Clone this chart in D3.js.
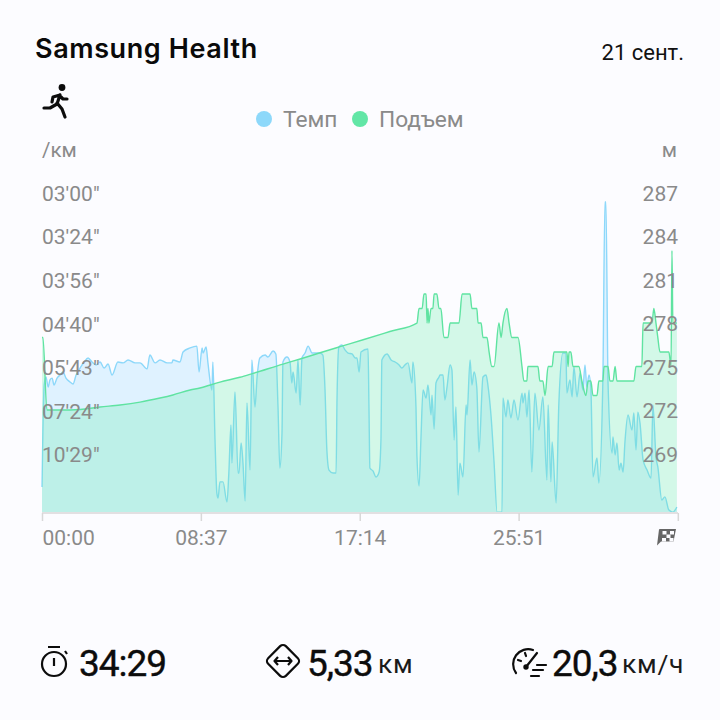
<!DOCTYPE html>
<html>
<head>
<meta charset="utf-8">
<script src="https://cdn.jsdelivr.net/npm/d3@7"></script>
<style>
  html, body { margin: 0; padding: 0; background: #fcfcff; }
  svg { display: block; }
  text { font-family: Roboto, sans-serif; }
</style>
</head>
<body>
<div id="chart"></div>
<script>
// elapsed seconds / speed in km/h, line by line in step
const paceSeconds = [
  0,3,7,13,20,26,33,39,49,59,68,78,91,101,111,124,137,150,163,176,
  189,202,215,228,247,264,280,303,319,342,351,368,384,407,423,426,449,459,482,504,
  511,521,524,534,540,553,556,563,569,573,579,589,602,608,615,618,628,638,641,648,
  654,661,667,677,683,693,700,709,726,735,752,761,768,774,781,784,797,807,813,817,
  827,833,840,846,856,866,879,905,914,921,927,934,947,957,960,966,976,986,996,1009,
  1019,1025,1032,1038,1061,1064,1067,1077,1087,1097,1103,1106,1123,1136,1149,1162,1171,1181,1191,1204,
  1207,1217,1220,1227,1233,1240,1250,1256,1266,1269,1276,1282,1292,1295,1305,1311,1318,1328,1334,1341,
  1347,1354,1360,1370,1380,1383,1393,1399,1406,1415,1422,1435,1445,1451,1461,1471,1481,1497,1500,1510,
  1516,1526,1536,1549,1562,1565,1572,1578,1585,1594,1604,1617,1630,1643,1647,1656,1660,1673,1682,1695,
  1705,1708,1718,1725,1731,1741,1751,1760,1767,1773,1780,1786,1793,1806,1812,1825,1832,1835,1842,1855,
  1858,1865,1871,1878,1884,1891,1897,1907,1920,1926,1933,1939,1946,1956,1969,1982,1988,1998,2004,2017,
  2027,2040,2053,2066
];
const paceSpeed = [
  3.97,7.09,9.55,9.99,9.44,9.83,9.93,9.55,9.93,10.10,10.26,9.93,9.72,9.61,10.10,10.48,10.81,11.03,10.81,10.65,
  10.81,10.48,10.70,10.10,10.81,10.76,10.92,10.76,10.76,10.43,11.19,10.76,10.92,10.76,10.76,10.92,10.81,11.36,11.58,11.68,
  10.26,11.58,11.30,11.63,10.76,9.28,10.81,6.54,3.64,3.37,4.25,4.25,3.15,4.74,7.36,5.28,9.17,4.74,4.74,6.38,
  5.28,3.21,8.57,4.90,10.92,8.35,9.99,11.03,11.19,11.08,11.41,11.25,8.35,5.01,6.93,10.81,11.08,10.81,9.66,10.26,
  9.11,10.92,8.46,11.03,11.30,11.68,11.30,11.30,11.19,9.28,6.00,4.90,4.74,4.74,8.73,11.63,11.74,11.47,11.30,11.25,
  11.03,11.03,10.26,11.36,11.52,8.35,5.01,4.85,4.52,4.79,6.54,10.92,11.25,10.92,10.81,10.65,10.48,10.65,10.76,9.66,
  10.81,8.35,5.72,4.03,6.54,9.28,8.84,9.55,7.91,9.00,7.14,9.66,9.99,10.10,10.10,8.73,9.44,10.65,10.37,6.54,
  8.35,3.53,5.28,4.52,8.46,7.91,10.92,9.55,10.26,9.39,5.89,9.99,10.10,9.55,7.91,5.34,2.60,2.60,8.84,7.80,
  8.73,7.75,8.73,7.64,9.11,8.57,9.11,7.80,9.28,4.79,9.11,7.09,8.90,4.35,8.46,4.25,6.43,3.10,8.57,11.30,
  11.30,9.11,9.83,8.90,10.54,8.90,10.21,9.28,10.65,9.44,10.10,9.44,4.52,5.56,4.19,9.66,19.56,19.56,9.66,5.83,
  6.71,5.72,6.38,4.90,5.28,4.79,6.43,7.91,7.09,8.02,6.00,8.07,7.47,5.45,4.90,4.46,8.46,5.61,5.07,3.26,
  3.43,2.71,2.60,2.88
];
const elevationSeconds = [
  0,3,16,59,124,189,254,319,384,426,482,514,579,644,687,784,840,905,970,1045,
  1132,1220,1227,1237,1243,1250,1253,1256,1259,
  1266,1272,1276,1285,1292,1298,1308,1321,1328,1357,1367,1393,1399,1415,1419,1429,1435,1448,1455,1464,
  1471,1487,1494,1500,1513,1520,1529,1549,1562,1568,1578,1581,1614,1620,1630,1637,1647,1660,1666,1686,
  1708,1712,1715,1721,1728,1747,1757,1770,1777,1786,1793,1806,1812,1825,1829,1842,1848,1858,1865,1871,
  1926,1933,1952,1956,1985,1991,1998,2004,2011,2040,2047,2050,2053,2066
];
const elevationMeters = [
  277,277,272,272,272.04,272.21,272.35,272.55,272.83,273.04,273.38,273.52,273.93,274.26,274.53,275.17,275.52,275.95,276.37,276.85,
  277.42,278,279,279,280,280,278,279,278,
  279,279,280,280,279,279,277,277,278,278,280,280,279,279,278,278,277,277,276,275,
  275,278,277,278,279,278,277,277,275,274,274,275,275,274,274,273,275,275,276,276,
  276,275,276,276,275,275,274,273,274,274,273,273,274,274,275,275,274,274,275,274,
  274,275,275,278,278,279,278,277,276,276,275,283,278,278
];
const paceTickLabels = ["03'00\"", "03'24\"", "03'56\"", "04'40\"", "05'43\"", "07'24\"", "10'29\""];
const paceTickSeconds = [180, 204, 236, 280, 343, 444, 629];
const elevationTicks = [287, 284, 281, 278, 275, 272, 269];
const timeTicks = [0, 517, 1034, 1551, 2069];
const timeTickLabels = ['00:00', '08:37', '17:14', '25:51', ''];
const legendItems = ['Темп', 'Подъем'];

const PACE_COLOR = '#8dd8fa';
const ELEV_COLOR = '#5fe3a1';
const GREY = '#8a8a8a';

const svg = d3.select('#chart').append('svg').attr('width', 720).attr('height', 720);

const x = d3.scaleLinear().domain([0, 2069]).range([42, 677.8]);
const yPace = d3.scaleLinear().domain([2.55, 20]).range([513, 194]);
const yElev = d3.scaleLinear().domain([264.9, 286.9]).range([513, 194]);

const paceRows = paceSeconds.map((t, i) => ({ t, v: paceSpeed[i] }));
const elevRows = elevationSeconds.map((t, i) => ({ t, v: elevationMeters[i] }));

function drawSeries(rows, yScale, fill, stroke) {
  const area = d3.area().curve(d3.curveMonotoneX).x(d => x(d.t)).y0(513).y1(d => yScale(d.v));
  const line = d3.line().curve(d3.curveMonotoneX).x(d => x(d.t)).y(d => yScale(d.v));
  svg.append('path').datum(rows).attr('d', area).attr('fill', fill).attr('fill-opacity', 0.25);
  svg.append('path').datum(rows).attr('d', line).attr('fill', 'none')
    .attr('stroke', stroke).attr('stroke-width', 1.4).attr('stroke-linejoin', 'round');
}

drawSeries(paceRows, yPace, '#89d5ff', PACE_COLOR);
drawSeries(elevRows, yElev, '#56eaa4', ELEV_COLOR);

// time axis
const xAxis = d3.axisBottom(x).tickValues(timeTicks).tickSize(8).tickPadding(9)
  .tickFormat((d, i) => timeTickLabels[i]);
const axisG = svg.append('g').attr('transform', 'translate(0,513)').call(xAxis);
axisG.select('.domain').attr('stroke', '#e2e0e2').attr('stroke-width', 2).attr('d', 'M42,0H678');
axisG.selectAll('.tick line').attr('stroke', '#d8d8d8').attr('stroke-width', 1.5);
axisG.selectAll('.tick text').attr('fill', GREY).attr('font-size', 21)
  .attr('font-family', 'Roboto, sans-serif').attr('dy', '0.72em');
axisG.selectAll('.tick text').filter(d => d === 0).attr('text-anchor', 'start').attr('x', 0);

// finish flag instead of the last time label
svg.append('path')
  .attr('d', 'M659,529.5 Q659,529 660,529 L676,529 L673.5,541.5 L661,541.5 L657,545.5 Z')
  .attr('fill', '#666');
svg.selectAll('rect.flag').data([[662.5, 531], [670, 531], [666.5, 534.5], [662, 538], [669.5, 538]])
  .join('rect').attr('class', 'flag')
  .attr('x', d => d[0]).attr('y', d => d[1]).attr('width', 4).attr('height', 3.5)
  .attr('fill', '#fcfcff');

// pace and elevation labels sit on top of the areas
svg.append('g').selectAll('text').data(paceTickSeconds).join('text')
  .attr('x', 42).attr('y', d => yPace(3600 / d)).attr('dy', '0.35em')
  .attr('font-size', 21).attr('fill', GREY)
  .text((d, i) => paceTickLabels[i]);
svg.append('g').selectAll('text').data(elevationTicks).join('text')
  .attr('x', 678).attr('y', d => yElev(d)).attr('dy', '0.38em')
  .attr('text-anchor', 'end').attr('font-size', 21).attr('fill', GREY)
  .text(d => d);
svg.append('text').attr('x', 42).attr('y', 157).attr('font-size', 20.5).attr('fill', GREY).text('/км');
svg.append('text').attr('x', 677).attr('y', 157).attr('text-anchor', 'end').attr('font-size', 20.5).attr('fill', GREY).text('м');

// header
svg.append('text').attr('x', 35).attr('y', 58)
  .style('font-family', 'Inter, sans-serif').attr('font-size', 27).attr('font-weight', 600)
  .attr('letter-spacing', 0.6).attr('fill', '#0a0a0a').text('Samsung Health');
svg.append('text').attr('x', 684).attr('y', 60).attr('text-anchor', 'end')
  .attr('font-size', 22).attr('fill', '#111').text('21 сент.');

// legend
const legendX = [264, 360];
const legendColors = [PACE_COLOR, '#62e6a6'];
const legend = svg.append('g').selectAll('g').data(legendItems).join('g')
  .attr('transform', (d, i) => `translate(${legendX[i]},119)`);
legend.append('circle').attr('r', 8).attr('fill', (d, i) => legendColors[i]);
legend.append('text').attr('x', 19).attr('dy', '0.36em').attr('font-size', 22.7).attr('fill', GREY).text(d => d);

// runner icon
const runner = svg.append('g').attr('fill', '#0c0c0c').attr('stroke', '#0c0c0c');
runner.append('circle').attr('cx', 62).attr('cy', 87.5).attr('r', 3.4).attr('stroke', 'none');
runner.append('path').attr('fill', 'none').attr('stroke-width', 3.2).attr('stroke-linecap', 'round').attr('stroke-linejoin', 'round')
  .attr('d', 'M60,95 L53,97 L52,102 M60,95 L57,104 L50,108 L44,108 M57,103 L62,109 L65,117 M60,96 L63,99 L67,99');

// footer stats
const statX = [79, 307, 552];
const statValues = ['34:29', '5,33', '20,3'];
svg.append('g').selectAll('text').data(statValues).join('text')
  .attr('x', (d, i) => statX[i]).attr('y', 676)
  .attr('font-size', 37).attr('font-weight', 400).attr('letter-spacing', -1)
  .attr('stroke', '#0c0c0c').attr('stroke-width', 0.4).attr('fill', '#0c0c0c')
  .text(d => d);
const unitX = [378, 622];
const unitLabels = ['км', 'км/ч'];
svg.append('g').selectAll('text').data(unitLabels).join('text')
  .attr('x', (d, i) => unitX[i]).attr('y', 673)
  .attr('font-size', 26.5).attr('letter-spacing', 0.7).attr('fill', '#1a1a1a')
  .text(d => d);

// stopwatch icon
const watch = svg.append('g').attr('fill', 'none').attr('stroke', '#0c0c0c').attr('stroke-width', 2.2);
watch.append('circle').attr('cx', 54).attr('cy', 664).attr('r', 12);
watch.append('path').attr('d', 'M48,647 H60 M54,658 V666 M65,651 L67,654');

// distance icon
const dist = svg.append('g').attr('fill', 'none').attr('stroke', '#0c0c0c').attr('stroke-width', 2.2).attr('stroke-linejoin', 'round');
dist.append('rect').attr('x', 270.5).attr('y', 648.5).attr('width', 25).attr('height', 25).attr('rx', 4)
  .attr('transform', 'rotate(45 283 661)');
dist.append('path').attr('d', 'M275,661 H291 M278,657 L274.5,661 L278,665 M288,657 L291.5,661 L288,665');

// speed icon
const speedo = svg.append('g').attr('fill', 'none').attr('stroke', '#0c0c0c').attr('stroke-width', 2.2).attr('stroke-linecap', 'round');
speedo.append('path').attr('d', 'M516,673 A15,15 0 0 1 533,650 M518,660 L521,661 M525,653 L526,656');
speedo.append('path').attr('d', 'M526,667 L537,653 M537,665 H546 M533,670 H543 M531,676 H539');
speedo.append('circle').attr('cx', 526).attr('cy', 667).attr('r', 1.6).attr('fill', '#0c0c0c');
</script>
</body>
</html>
